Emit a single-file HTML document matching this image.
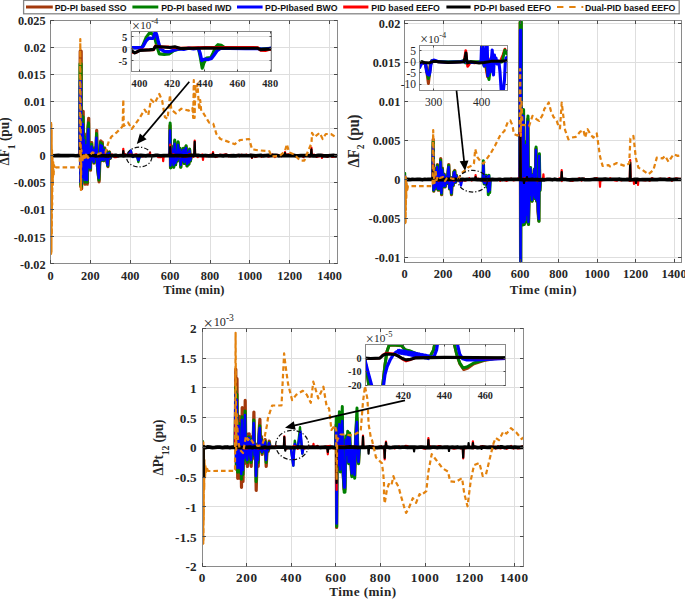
<!DOCTYPE html>
<html><head><meta charset="utf-8"><style>
html,body{margin:0;padding:0;background:#fff;}
body{width:685px;height:599px;overflow:hidden;font-family:"Liberation Sans", sans-serif;}
svg{display:block;}
</style></head><body>
<svg width="685" height="599" viewBox="0 0 685 599">
<rect width="685" height="599" fill="#fff"/>
<defs><clipPath id="c1"><rect x="50.5" y="20.3" width="287.1" height="243.6"/></clipPath><clipPath id="c2"><rect x="404.6" y="20.5" width="276.9" height="241.5"/></clipPath><clipPath id="c3"><rect x="202.3" y="328.3" width="321.1" height="238"/></clipPath><clipPath id="ci1"><rect x="131.5" y="31.7" width="140.2" height="40.1"/></clipPath><clipPath id="ci2"><rect x="419.3" y="45.3" width="87.9" height="45.4"/></clipPath><clipPath id="ci3"><rect x="365.5" y="344.6" width="140.1" height="41"/></clipPath></defs>
<rect x="23.6" y="0.4" width="655.6" height="13.4" fill="#fff" stroke="#858585" stroke-width="1.3"/>
<line x1="26" y1="7" x2="52.8" y2="7" stroke="#A3390C" stroke-width="3"/>
<text x="54.7" y="10.6" font-family='"Liberation Sans", sans-serif' font-size="8.75" font-weight="bold" text-anchor="start" fill="#111">PD-PI based SSO</text>
<line x1="132.4" y1="7" x2="158.3" y2="7" stroke="#008000" stroke-width="3"/>
<text x="161.2" y="10.6" font-family='"Liberation Sans", sans-serif' font-size="8.75" font-weight="bold" text-anchor="start" fill="#111">PD-PI based IWD</text>
<line x1="237" y1="7" x2="262.6" y2="7" stroke="#0000FF" stroke-width="3"/>
<text x="265.1" y="10.6" font-family='"Liberation Sans", sans-serif' font-size="8.75" font-weight="bold" text-anchor="start" fill="#111">PD-PIbased BWO</text>
<line x1="343.2" y1="7" x2="368.4" y2="7" stroke="#FF0000" stroke-width="3"/>
<text x="371.3" y="10.6" font-family='"Liberation Sans", sans-serif' font-size="8.75" font-weight="bold" text-anchor="start" fill="#111">PID based EEFO</text>
<line x1="446.4" y1="7" x2="470.6" y2="7" stroke="#000000" stroke-width="3"/>
<text x="473.8" y="10.6" font-family='"Liberation Sans", sans-serif' font-size="8.75" font-weight="bold" text-anchor="start" fill="#111">PD-PI based EEFO</text>
<line x1="557" y1="7" x2="583.3" y2="7" stroke="#E3820E" stroke-width="2.2" stroke-dasharray="6.4,5.8"/>
<text x="584.9" y="10.6" font-family='"Liberation Sans", sans-serif' font-size="8.75" font-weight="bold" text-anchor="start" fill="#111">Dual-PID based EEFO</text>
<rect x="50.5" y="20.3" width="287.1" height="243.6" fill="#fff"/>
<line x1="90.5" y1="20.3" x2="90.5" y2="263.9" stroke="#dedede" stroke-width="1"/>
<line x1="130.5" y1="20.3" x2="130.5" y2="263.9" stroke="#dedede" stroke-width="1"/>
<line x1="170.5" y1="20.3" x2="170.5" y2="263.9" stroke="#dedede" stroke-width="1"/>
<line x1="210.5" y1="20.3" x2="210.5" y2="263.9" stroke="#dedede" stroke-width="1"/>
<line x1="249.5" y1="20.3" x2="249.5" y2="263.9" stroke="#dedede" stroke-width="1"/>
<line x1="289.5" y1="20.3" x2="289.5" y2="263.9" stroke="#dedede" stroke-width="1"/>
<line x1="329.5" y1="20.3" x2="329.5" y2="263.9" stroke="#dedede" stroke-width="1"/>
<line x1="50.5" y1="47.5" x2="337.6" y2="47.5" stroke="#dedede" stroke-width="1"/>
<line x1="50.5" y1="74.5" x2="337.6" y2="74.5" stroke="#dedede" stroke-width="1"/>
<line x1="50.5" y1="101.5" x2="337.6" y2="101.5" stroke="#dedede" stroke-width="1"/>
<line x1="50.5" y1="128.5" x2="337.6" y2="128.5" stroke="#dedede" stroke-width="1"/>
<line x1="50.5" y1="155.5" x2="337.6" y2="155.5" stroke="#dedede" stroke-width="1"/>
<line x1="50.5" y1="182.5" x2="337.6" y2="182.5" stroke="#dedede" stroke-width="1"/>
<line x1="50.5" y1="209.5" x2="337.6" y2="209.5" stroke="#dedede" stroke-width="1"/>
<line x1="50.5" y1="236.5" x2="337.6" y2="236.5" stroke="#dedede" stroke-width="1"/>
<g clip-path="url(#c1)"><polyline points="50.6,155.6 50.9,140 51.3,205 51.7,155.6" fill="none" stroke="#A3390C" stroke-width="2.2" stroke-linejoin="round" stroke-linecap="butt"/>
<polyline points="50.6,155.6 50.9,136.7 51.3,211.5 51.7,155.6" fill="none" stroke="#008000" stroke-width="2.2" stroke-linejoin="round" stroke-linecap="butt"/>
<polyline points="50.6,155.6 50.9,145 51.3,190 51.7,155.6" fill="none" stroke="#0000FF" stroke-width="2.2" stroke-linejoin="round" stroke-linecap="butt"/>
<polyline points="50.6,155.6 50.9,150 51.3,202.7 51.7,155.6" fill="none" stroke="#FF0000" stroke-width="2" stroke-linejoin="round" stroke-linecap="butt"/>
<polyline points="79.8,155.58 80.2,51.14 80.7,186.48 81.2,51.14 81.6,188.82 82.1,126.74 82.6,181.8 83.2,111.34 83.8,179.46 84.4,133.74 85,184.14 85.6,147.74 86.2,177.12 86.8,140.74 87.4,184.14 88,126.74 88.7,118.34 89.3,168.93 89.9,147.74 90.5,170.1 91.1,147.74 91.8,142.7 92.5,160.74 93.3,147.74 94.1,163.08 94.9,147.74 95.7,158.4 96.7,130.38 97.5,166.59 98.3,174.78 99.1,181.8 99.9,160.74 100.7,140.74 101.5,160.74 102.3,142.14 103.1,158.4 103.9,160.74 104.7,147.74 105.5,158.4 106.3,150.54 107.1,161.91 107.9,166.59 108.7,154.74 109.5,151.94 110.3,158.4 111.1,155.58" fill="none" stroke="#A3390C" stroke-width="3.2" stroke-linejoin="round" stroke-linecap="butt"/>
<polyline points="169.5,155.59 170,125.47 170.5,167.47 171.2,146.47 172,163.27 172.8,148.87 173.6,166.87 174.6,141.19 175.5,164.47 176.3,151.27 177.2,160.87 178,142.87 179,158.47 180,148.87 180.7,166.87 181.6,151.27 182.5,160.87 183.3,148.87 184.2,163.27 185,151.27 186,146.47 187,165.67 188,152.47 188.8,163.87 189.5,149.59 190.3,160.87 191.2,155.59" fill="none" stroke="#A3390C" stroke-width="3.2" stroke-linejoin="round" stroke-linecap="butt"/>
<polyline points="79.65,155.59 80.05,63.83 80.55,184.37 81.05,63.83 81.45,186.55 81.95,130.25 82.45,180.01 83.05,116.72 83.65,177.83 84.25,136.4 84.85,182.19 85.45,148.7 86.05,175.65 86.65,142.55 87.25,182.19 87.85,130.25 88.55,122.87 89.15,168.02 89.75,148.7 90.35,169.11 90.95,148.7 91.65,144.27 92.35,160.39 93.15,148.7 93.95,162.57 94.75,148.7 95.55,158.21 96.55,133.45 97.35,165.84 98.15,173.47 98.95,180.01 99.75,160.39 100.55,142.55 101.35,160.39 102.15,143.78 102.95,158.21 103.75,160.39 104.55,148.7 105.35,158.21 106.15,151.16 106.95,161.48 107.75,165.84 108.55,154.85 109.35,152.39 110.15,158.21 110.95,155.59" fill="none" stroke="#008000" stroke-width="3.0" stroke-linejoin="round" stroke-linecap="butt"/>
<polyline points="169.65,155.58 170.15,122.95 170.65,167.96 171.35,145.7 172.15,163.59 172.95,148.31 173.75,167.34 174.75,139.98 175.65,164.84 176.45,150.91 177.35,161.09 178.15,141.81 179.15,158.59 180.15,148.31 180.85,167.34 181.75,150.91 182.65,161.09 183.45,148.31 184.35,163.59 185.15,150.91 186.15,145.7 187.15,166.09 188.15,152.2 188.95,164.21 189.65,149.08 190.45,161.09 191.35,155.58" fill="none" stroke="#008000" stroke-width="3.0" stroke-linejoin="round" stroke-linecap="butt"/>
<polyline points="79.5,155.6 79.9,81 80.4,182 80.9,81 81.3,184 81.8,135 82.3,178 82.9,124 83.5,176 84.1,140 84.7,180 85.3,150 85.9,174 86.5,145 87.1,180 87.7,135 88.4,129 89,167 89.6,150 90.2,168 90.8,150 91.5,146.4 92.2,160 93,150 93.8,162 94.6,150 95.4,158 96.4,137.6 97.2,165 98,172 98.8,178 99.6,160 100.4,145 101.2,160 102,146 102.8,158 103.6,160 104.4,150 105.2,158 106,152 106.8,161 107.6,165 108.4,155 109.2,153 110,158 110.8,155.6" fill="none" stroke="#0000FF" stroke-width="2.4" stroke-linejoin="round" stroke-linecap="butt"/>
<polyline points="169.5,155.6 170,130.5 170.5,165.5 171.2,148 172,162 172.8,150 173.6,165 174.6,143.6 175.5,163 176.3,152 177.2,160 178,145 179,158 180,150 180.7,165 181.6,152 182.5,160 183.3,150 184.2,162 185,152 186,148 187,164 188,153 188.8,162.5 189.5,150.6 190.3,160 191.2,155.6" fill="none" stroke="#0000FF" stroke-width="2.4" stroke-linejoin="round" stroke-linecap="butt"/>
<polyline points="128.5,155.6 129.5,152 130.8,150.6 132,156 133,157 135,155 137.2,157 138.4,162 139.6,157 142,155.6" fill="none" stroke="#008000" stroke-width="2.4" stroke-linejoin="round" stroke-linecap="butt"/>
<polyline points="128.5,155.6 129.5,152 130.8,150.6 132,156 133,157 135,155 137.2,157 138.4,160 139.6,157 142,155.6" fill="none" stroke="#0000FF" stroke-width="2.4" stroke-linejoin="round" stroke-linecap="butt"/>
<polyline points="79,155.49 81.2,155.85 83.4,157.09 85.6,155.53 87.8,155.68 90,155.95 92.2,154.58 94.4,155.69 96.6,156.09 98.8,156.65 101,154.27 103.2,154.98 105.4,154.26 107.6,156.7 109.8,156.31 112,154.09 114.2,157.29 116.4,157.23 118.6,156.17 120.8,156.04 123,154.49 125.2,154 127.4,155.75 129.6,154.15 131.8,154.6 134,154.77 136.2,154.05 138.4,155.53 140.6,155.45 142.8,156.81 145,155.72 147.2,156.13 149.4,155.65 151.6,156.2 153.8,155.5 156,154.9 158.2,157.34 160.4,157.34 162.6,156.81 164.8,156.36 167,155.02 169.2,154.73 171.4,154.93 173.6,154.19 175.8,156.56 178,155.31 180.2,156.83 182.4,155.26 184.6,157.21 186.8,156.83 189,153.95 191.2,154.66 193.4,157.04 195.6,155.55 197.8,157.28 200,155.3 202.2,154.2 204.4,156.09 206.6,156.6 208.8,154.87 211,154.25 213.2,155.08 215.4,157.23 217.6,156.53 219.8,154.35 222,154.79 224.2,154.29 226.4,154.15 228.6,156.66 230.8,154.55 233,155.85 235.2,155.47 237.4,154.6 239.6,156.44 241.8,154.4 244,156.14 246.2,154.35 248.4,155.38 250.6,154.67 252.8,154.87 255,157.25 257.2,156.68 259.4,154.98 261.6,156.96 263.8,154.67 266,155.29 268.2,156.85 270.4,156.13 272.6,154.29 274.8,157.31 277,154.68 279.2,154.83 281.4,156.58 283.6,155.07 285.8,154.96 288,154.2 290.2,154.26 292.4,155.93 294.6,154.78 296.8,155.99 299,155.21 301.2,155.49 303.4,157.21 305.6,155.59 307.8,155.9 310,156.9 312.2,154.57 314.4,154.47 316.6,157.04 318.8,156.73 321,154.8 323.2,154.6 325.4,156.46 327.6,157.15 329.8,154.62 332,157.18 334.2,156.95 336.4,156 337.6,155.65" fill="none" stroke="#FF0000" stroke-width="1.8" stroke-linejoin="round" stroke-linecap="butt"/>
<polyline points="79.85,155.65 80.3,143 80.75,155.65" fill="none" stroke="#FF0000" stroke-width="2.2" stroke-linejoin="round" stroke-linecap="butt" stroke-linejoin="miter"/>
<polyline points="122.85,155.65 123.3,148.9 123.75,155.65" fill="none" stroke="#FF0000" stroke-width="2.2" stroke-linejoin="round" stroke-linecap="butt" stroke-linejoin="miter"/>
<polyline points="149.55,155.65 150,152.5 150.45,155.65" fill="none" stroke="#FF0000" stroke-width="2.2" stroke-linejoin="round" stroke-linecap="butt" stroke-linejoin="miter"/>
<polyline points="162.75,155.65 163.2,161.2 163.65,155.65" fill="none" stroke="#FF0000" stroke-width="2.2" stroke-linejoin="round" stroke-linecap="butt" stroke-linejoin="miter"/>
<polyline points="169.75,155.65 170.2,144.5 170.65,155.65" fill="none" stroke="#FF0000" stroke-width="2.2" stroke-linejoin="round" stroke-linecap="butt" stroke-linejoin="miter"/>
<polyline points="194.25,155.65 194.7,140.5 195.15,155.65" fill="none" stroke="#FF0000" stroke-width="2.2" stroke-linejoin="round" stroke-linecap="butt" stroke-linejoin="miter"/>
<polyline points="202.55,155.65 203,160 203.45,155.65" fill="none" stroke="#FF0000" stroke-width="2.2" stroke-linejoin="round" stroke-linecap="butt" stroke-linejoin="miter"/>
<polyline points="212.55,155.65 213,152 213.45,155.65" fill="none" stroke="#FF0000" stroke-width="2.2" stroke-linejoin="round" stroke-linecap="butt" stroke-linejoin="miter"/>
<polyline points="251.55,155.65 252,158 252.45,155.65" fill="none" stroke="#FF0000" stroke-width="2.2" stroke-linejoin="round" stroke-linecap="butt" stroke-linejoin="miter"/>
<polyline points="284.55,155.65 285,152 285.45,155.65" fill="none" stroke="#FF0000" stroke-width="2.2" stroke-linejoin="round" stroke-linecap="butt" stroke-linejoin="miter"/>
<polyline points="310.95,155.65 311.4,147.5 311.85,155.65" fill="none" stroke="#FF0000" stroke-width="2.2" stroke-linejoin="round" stroke-linecap="butt" stroke-linejoin="miter"/>
<polyline points="321.55,155.65 322,158 322.45,155.65" fill="none" stroke="#FF0000" stroke-width="2.2" stroke-linejoin="round" stroke-linecap="butt" stroke-linejoin="miter"/>
<polyline points="50.8,155.46 53.3,155.75 55.8,155.55 58.3,155.47 60.8,155.64 63.3,155.65 65.8,155.64 68.3,155.62 70.8,155.51 73.3,155.5 75.8,155.77 78.3,155.54 80.8,155.75 83.3,155.82 85.8,155.87 88.3,155.92 90.8,155.49 93.3,155.49 95.8,155.79 98.3,155.7 100.8,155.47 103.3,155.76 105.8,155.87 108.3,155.85 110.8,155.48 113.3,155.53 115.8,155.35 118.3,155.94 120.8,155.48 123.3,155.79 125.8,155.67 128.3,155.71 130.8,155.67 133.3,155.85 135.8,155.71 138.3,155.53 140.8,155.42 143.3,155.64 145.8,155.9 148.3,155.44 150.8,155.76 153.3,155.73 155.8,155.45 158.3,155.47 160.8,155.76 163.3,155.61 165.8,155.59 168.3,155.64 170.8,155.41 173.3,155.77 175.8,155.7 178.3,155.67 180.8,155.55 183.3,155.84 185.8,155.84 188.3,155.68 190.8,155.4 193.3,155.44 195.8,155.44 198.3,155.4 200.8,155.74 203.3,155.68 205.8,155.47 208.3,155.9 210.8,155.73 213.3,155.83 215.8,155.84 218.3,155.76 220.8,155.67 223.3,155.94 225.8,155.43 228.3,155.76 230.8,155.88 233.3,155.64 235.8,155.84 238.3,155.46 240.8,155.6 243.3,155.51 245.8,155.59 248.3,155.77 250.8,155.44 253.3,155.55 255.8,155.86 258.3,155.53 260.8,155.43 263.3,155.95 265.8,155.67 268.3,155.36 270.8,155.69 273.3,155.44 275.8,155.45 278.3,155.79 280.8,155.74 283.3,155.61 285.8,155.66 288.3,155.69 290.8,155.63 293.3,155.41 295.8,155.81 298.3,155.81 300.8,155.6 303.3,155.59 305.8,155.72 308.3,155.63 310.8,155.6 313.3,155.88 315.8,155.89 318.3,155.44 320.8,155.45 323.3,155.82 325.8,155.92 328.3,155.79 330.8,155.53 333.3,155.39 335.8,155.85 337.6,155.65" fill="none" stroke="#000000" stroke-width="3.7" stroke-linejoin="round" stroke-linecap="butt"/>
<polyline points="79.85,155.65 80.3,145 80.75,155.65" fill="none" stroke="#000000" stroke-width="2.2" stroke-linejoin="round" stroke-linecap="butt" stroke-linejoin="miter"/>
<polyline points="122.85,155.65 123.3,151 123.75,155.65" fill="none" stroke="#000000" stroke-width="2.2" stroke-linejoin="round" stroke-linecap="butt" stroke-linejoin="miter"/>
<polyline points="169.75,155.65 170.2,147 170.65,155.65" fill="none" stroke="#000000" stroke-width="2.2" stroke-linejoin="round" stroke-linecap="butt" stroke-linejoin="miter"/>
<polyline points="194.25,155.65 194.7,141.9 195.15,155.65" fill="none" stroke="#000000" stroke-width="2.2" stroke-linejoin="round" stroke-linecap="butt" stroke-linejoin="miter"/>
<polyline points="212.55,155.65 213,153.5 213.45,155.65" fill="none" stroke="#000000" stroke-width="2.2" stroke-linejoin="round" stroke-linecap="butt" stroke-linejoin="miter"/>
<polyline points="251.55,155.65 252,157.5 252.45,155.65" fill="none" stroke="#000000" stroke-width="2.2" stroke-linejoin="round" stroke-linecap="butt" stroke-linejoin="miter"/>
<polyline points="284.55,155.65 285,153 285.45,155.65" fill="none" stroke="#000000" stroke-width="2.2" stroke-linejoin="round" stroke-linecap="butt" stroke-linejoin="miter"/>
<polyline points="310.95,155.65 311.4,149.3 311.85,155.65" fill="none" stroke="#000000" stroke-width="2.2" stroke-linejoin="round" stroke-linecap="butt" stroke-linejoin="miter"/>
<polyline points="50.6,150 50.8,122 51,254 51.2,124 51.4,252 51.6,130 51.8,235 52,150 52.2,205 52.5,158 52.8,185 53.2,162 53.6,176 54,165 55,169 56,167.4 79.8,167.4 80.3,39 80.9,190 81.4,150 82.2,162 83.5,154 85,160 86.5,153 88,158 90,155 92.3,152.4 97.5,154.1 101,153 105.4,152.4 108.9,141 111.5,136.6 116.8,132.3 121.2,127.9 122.6,126.2 123.3,99.5 123.8,126 128.1,122.5 131.8,128.9 139.1,118.8 144.6,109.6 148.3,115.1 151,99.5 154.7,103.2 159.3,94 162.1,100.4 164.9,117 167.6,118.8 170,95 171.3,109.6 175.9,113.3 181.4,108.7 188.8,110.6 192.4,107.8 193.2,117.9 193.8,80.2 194.6,118 195.4,86 196.5,92 197.5,83.9 198.3,97 199.2,110 200.2,100 201.2,111 203,112.5 209.2,122.7 213.3,123.7 216.4,134 220.4,139 226.6,141.1 234.8,144.2 239.9,140.1 249.1,139 252.1,149.3 258.3,150.3 269.5,151.3 271.6,156.5 279.8,155.8 284.9,151.3 286.9,144.2 289,152.4 294.1,154.4 300.2,160.6 304.3,160.6 308.4,150.3 311.5,143.2 312,132.9 314.5,137 319.6,132.9 322.7,139 325.8,134 330.9,134 336,137.4 338,137" fill="none" stroke="#E3820E" stroke-width="2.2" stroke-linejoin="round" stroke-linecap="butt" stroke-dasharray="4.6,3"/>
<polyline points="50.9,122 50.9,254" fill="none" stroke="#E3820E" stroke-width="2.4" stroke-linejoin="round" stroke-linecap="butt"/></g>
<rect x="50.5" y="20.5" width="287" height="243" fill="none" stroke="#8a8a8a" stroke-width="1.0"/>
<path d="M50.5,263.5v-3.5M50.5,20.5v3.5M90.5,263.5v-3.5M90.5,20.5v3.5M130.5,263.5v-3.5M130.5,20.5v3.5M170.5,263.5v-3.5M170.5,20.5v3.5M210.5,263.5v-3.5M210.5,20.5v3.5M249.5,263.5v-3.5M249.5,20.5v3.5M289.5,263.5v-3.5M289.5,20.5v3.5M329.5,263.5v-3.5M329.5,20.5v3.5M50.5,20.5h3.5M337.5,20.5h-3.5M50.5,47.5h3.5M337.5,47.5h-3.5M50.5,74.5h3.5M337.5,74.5h-3.5M50.5,101.5h3.5M337.5,101.5h-3.5M50.5,128.5h3.5M337.5,128.5h-3.5M50.5,155.5h3.5M337.5,155.5h-3.5M50.5,182.5h3.5M337.5,182.5h-3.5M50.5,209.5h3.5M337.5,209.5h-3.5M50.5,236.5h3.5M337.5,236.5h-3.5M50.5,263.5h3.5M337.5,263.5h-3.5" stroke="#4a4a4a" stroke-width="1.0" fill="none"/>
<text x="45.6" y="25" font-family='"Liberation Serif", serif' font-size="12.3" font-weight="bold" text-anchor="end" fill="#262626">0.025</text>
<text x="45.6" y="52.07" font-family='"Liberation Serif", serif' font-size="12.3" font-weight="bold" text-anchor="end" fill="#262626">0.02</text>
<text x="45.6" y="79.14" font-family='"Liberation Serif", serif' font-size="12.3" font-weight="bold" text-anchor="end" fill="#262626">0.015</text>
<text x="45.6" y="106.21" font-family='"Liberation Serif", serif' font-size="12.3" font-weight="bold" text-anchor="end" fill="#262626">0.01</text>
<text x="45.6" y="133.28" font-family='"Liberation Serif", serif' font-size="12.3" font-weight="bold" text-anchor="end" fill="#262626">0.005</text>
<text x="45.6" y="160.35" font-family='"Liberation Serif", serif' font-size="12.3" font-weight="bold" text-anchor="end" fill="#262626">0</text>
<text x="45.6" y="187.42" font-family='"Liberation Serif", serif' font-size="12.3" font-weight="bold" text-anchor="end" fill="#262626">-0.005</text>
<text x="45.6" y="214.49" font-family='"Liberation Serif", serif' font-size="12.3" font-weight="bold" text-anchor="end" fill="#262626">-0.01</text>
<text x="45.6" y="241.56" font-family='"Liberation Serif", serif' font-size="12.3" font-weight="bold" text-anchor="end" fill="#262626">-0.015</text>
<text x="45.6" y="268.63" font-family='"Liberation Serif", serif' font-size="12.3" font-weight="bold" text-anchor="end" fill="#262626">-0.02</text>
<text x="50.5" y="280.1" font-family='"Liberation Serif", serif' font-size="12.3" font-weight="bold" text-anchor="middle" fill="#262626" letter-spacing="0.05">0</text>
<text x="90.38" y="280.1" font-family='"Liberation Serif", serif' font-size="12.3" font-weight="bold" text-anchor="middle" fill="#262626" letter-spacing="0.05">200</text>
<text x="130.25" y="280.1" font-family='"Liberation Serif", serif' font-size="12.3" font-weight="bold" text-anchor="middle" fill="#262626" letter-spacing="0.05">400</text>
<text x="170.13" y="280.1" font-family='"Liberation Serif", serif' font-size="12.3" font-weight="bold" text-anchor="middle" fill="#262626" letter-spacing="0.05">600</text>
<text x="210" y="280.1" font-family='"Liberation Serif", serif' font-size="12.3" font-weight="bold" text-anchor="middle" fill="#262626" letter-spacing="0.05">800</text>
<text x="249.88" y="280.1" font-family='"Liberation Serif", serif' font-size="12.3" font-weight="bold" text-anchor="middle" fill="#262626" letter-spacing="0.05">1000</text>
<text x="289.76" y="280.1" font-family='"Liberation Serif", serif' font-size="12.3" font-weight="bold" text-anchor="middle" fill="#262626" letter-spacing="0.05">1200</text>
<text x="329.63" y="280.1" font-family='"Liberation Serif", serif' font-size="12.3" font-weight="bold" text-anchor="middle" fill="#262626" letter-spacing="0.05">1400</text>
<text x="194" y="294.4" font-family='"Liberation Serif", serif' font-size="12.5" font-weight="bold" text-anchor="middle" fill="#262626" letter-spacing="0.15">Time (min)</text>
<text transform="translate(9.4,141.5) scale(1.1,1) rotate(-90)" font-family='"Liberation Serif", serif' font-size="13.3" font-weight="bold" text-anchor="middle" fill="#262626" letter-spacing="0">&#916;F<tspan font-size="9.5" dy="4.8">1</tspan><tspan dy="-4.8"> (pu)</tspan></text>
<rect x="131.5" y="31.7" width="140.2" height="40.1" fill="#fff"/>
<line x1="139.5" y1="31.7" x2="139.5" y2="71.8" stroke="#dedede" stroke-width="1"/>
<line x1="172.5" y1="31.7" x2="172.5" y2="71.8" stroke="#dedede" stroke-width="1"/>
<line x1="204.5" y1="31.7" x2="204.5" y2="71.8" stroke="#dedede" stroke-width="1"/>
<line x1="237.5" y1="31.7" x2="237.5" y2="71.8" stroke="#dedede" stroke-width="1"/>
<line x1="270.5" y1="31.7" x2="270.5" y2="71.8" stroke="#dedede" stroke-width="1"/>
<line x1="131.5" y1="36.5" x2="271.7" y2="36.5" stroke="#dedede" stroke-width="1"/>
<line x1="131.5" y1="48.5" x2="271.7" y2="48.5" stroke="#dedede" stroke-width="1"/>
<line x1="131.5" y1="60.5" x2="271.7" y2="60.5" stroke="#dedede" stroke-width="1"/>
<g clip-path="url(#ci1)"><polyline points="131.5,47.73 141.29,47.73 142.93,45.37 146.19,37.34 149.13,33.33 151.58,33.33 153.7,35.22 154.84,38.05 156.8,45.84 159.25,53.86 164.15,54.34 169.05,53.86 173.94,50.56 180.47,48.67 188.64,48.2 198.43,48.2 200.39,57.64 202.19,68.26 204.15,62.36 206.59,58.11 210.68,57.64 213.12,52.92 215.57,47.02 218.02,44.66 221.29,45.37 224.55,47.49 237.61,48.2 257.2,48.2 262.1,48.91 271.89,48.2" fill="none" stroke="#008000" stroke-width="3.1" stroke-linejoin="round" stroke-linecap="butt"/>
<polyline points="131.5,47.73 141.78,47.73 143.42,45.84 145.87,41.12 148.8,38.05 151.09,38.29 153.21,38.29 155.33,31.44 156.8,35.22 158.44,42.3 160.56,49.14 164.15,51.27 169.05,51.74 173.94,50.09 178.84,48.91 183.74,49.38 188.64,48.2 193.53,48.91 198.43,48.2 200.06,52.92 201.7,60.47 204.96,59.06 208.23,59.53 211.49,58.35 213.94,55.28 217.21,50.56 220.47,48.44 229.45,48.44 245.78,48.67 257.2,48.67 262.1,49.14 267,48.91 271.89,48.2" fill="none" stroke="#0000FF" stroke-width="3.3" stroke-linejoin="round" stroke-linecap="butt"/>
<polyline points="131.5,52.45 136.4,52.45 139.66,50.09 147.82,49.85 153.54,49.85 155.33,45.84 159.25,46.78 169.05,47.02 180.47,48.2 204.96,47.49 253.94,47.49 258.02,47.73 260.47,50.32 265.37,50.56 268.63,49.62 271.89,49.38" fill="none" stroke="#FF0000" stroke-width="2.8" stroke-linejoin="round" stroke-linecap="butt"/>
<polyline points="131.5,50.56 134.76,52.92 139.66,50.56 149.46,49.85 153.54,49.38 155.33,46.55 160.07,46.78 169.86,47.49 174.76,46.78 180.47,48.44 196.8,48.2 204.96,47.96 237.61,48.2 257.2,48.2 260.47,49.62 271.89,48.91" fill="none" stroke="#000000" stroke-width="3.1" stroke-linejoin="round" stroke-linecap="butt"/></g>
<rect x="131.5" y="31.5" width="140" height="40" fill="none" stroke="#8a8a8a" stroke-width="1.0"/>
<path d="M139.5,71.5v-2M139.5,31.5v2M172.5,71.5v-2M172.5,31.5v2M204.5,71.5v-2M204.5,31.5v2M237.5,71.5v-2M237.5,31.5v2M270.5,71.5v-2M270.5,31.5v2M131.5,36.5h2M271.5,36.5h-2M131.5,48.5h2M271.5,48.5h-2M131.5,60.5h2M271.5,60.5h-2" stroke="#4a4a4a" stroke-width="1.0" fill="none"/>
<text x="127.4" y="41" font-family='"Liberation Serif", serif' font-size="10.6" font-weight="bold" text-anchor="end" fill="#262626">5</text>
<text x="127.4" y="52.8" font-family='"Liberation Serif", serif' font-size="10.6" font-weight="bold" text-anchor="end" fill="#262626">0</text>
<text x="127.4" y="64.6" font-family='"Liberation Serif", serif' font-size="10.6" font-weight="bold" text-anchor="end" fill="#262626">-5</text>
<text x="139.66" y="86.7" font-family='"Liberation Serif", serif' font-size="10.4" font-weight="bold" text-anchor="middle" fill="#262626" letter-spacing="0.2">400</text>
<text x="172.31" y="86.7" font-family='"Liberation Serif", serif' font-size="10.4" font-weight="bold" text-anchor="middle" fill="#262626" letter-spacing="0.2">420</text>
<text x="204.96" y="86.7" font-family='"Liberation Serif", serif' font-size="10.4" font-weight="bold" text-anchor="middle" fill="#262626" letter-spacing="0.2">440</text>
<text x="237.61" y="86.7" font-family='"Liberation Serif", serif' font-size="10.4" font-weight="bold" text-anchor="middle" fill="#262626" letter-spacing="0.2">460</text>
<text x="270.26" y="86.7" font-family='"Liberation Serif", serif' font-size="10.4" font-weight="bold" text-anchor="middle" fill="#262626" letter-spacing="0.2">480</text>
<text x="132" y="31" font-family='"Liberation Serif", serif' font-size="14" fill="#262626">&#215;</text><text x="140.2" y="29.4" font-family='"Liberation Serif", serif' font-size="11" fill="#262626">10<tspan font-size="8.5" dy="-5.2">-4</tspan></text>
<rect x="404.6" y="20.5" width="276.9" height="241.5" fill="#fff"/>
<line x1="443.5" y1="20.5" x2="443.5" y2="262" stroke="#dedede" stroke-width="1"/>
<line x1="481.5" y1="20.5" x2="481.5" y2="262" stroke="#dedede" stroke-width="1"/>
<line x1="520.5" y1="20.5" x2="520.5" y2="262" stroke="#dedede" stroke-width="1"/>
<line x1="558.5" y1="20.5" x2="558.5" y2="262" stroke="#dedede" stroke-width="1"/>
<line x1="597.5" y1="20.5" x2="597.5" y2="262" stroke="#dedede" stroke-width="1"/>
<line x1="635.5" y1="20.5" x2="635.5" y2="262" stroke="#dedede" stroke-width="1"/>
<line x1="674.5" y1="20.5" x2="674.5" y2="262" stroke="#dedede" stroke-width="1"/>
<line x1="404.6" y1="23.5" x2="681.5" y2="23.5" stroke="#dedede" stroke-width="1"/>
<line x1="404.6" y1="62.5" x2="681.5" y2="62.5" stroke="#dedede" stroke-width="1"/>
<line x1="404.6" y1="101.5" x2="681.5" y2="101.5" stroke="#dedede" stroke-width="1"/>
<line x1="404.6" y1="140.5" x2="681.5" y2="140.5" stroke="#dedede" stroke-width="1"/>
<line x1="404.6" y1="179.5" x2="681.5" y2="179.5" stroke="#dedede" stroke-width="1"/>
<line x1="404.6" y1="218.5" x2="681.5" y2="218.5" stroke="#dedede" stroke-width="1"/>
<line x1="404.6" y1="257.5" x2="681.5" y2="257.5" stroke="#dedede" stroke-width="1"/>
<g clip-path="url(#c2)"><polyline points="404.8,179.5 405.1,173.1 405.5,198 405.9,179.5" fill="none" stroke="#008000" stroke-width="2.2" stroke-linejoin="round" stroke-linecap="butt"/>
<polyline points="404.8,179.5 405.1,176 405.5,192 405.9,179.5" fill="none" stroke="#0000FF" stroke-width="2.2" stroke-linejoin="round" stroke-linecap="butt"/>
<polyline points="432.7,179.5 433.2,139.3 433.8,191.26 434.5,168.1 435.2,189.02 436,170.5 436.7,186.78 437.4,164.5 438.2,190.14 439,170.5 439.8,190.14 440.7,158.5 441.6,194.62 442.4,168.1 443.2,186.78 444.2,174.1 445.2,186.78 446.2,176.5 447.2,183.42 448.2,170.5 448.8,164.5 449.6,189.02 450.5,177.7 451.5,194.62 452.4,177.7 453.2,185.66 454,171.7 454.8,170.5 455.6,182.3 456.4,175.3 457.2,179.5" fill="none" stroke="#A3390C" stroke-width="3.2" stroke-linejoin="round" stroke-linecap="butt"/>
<polyline points="519.6,179.5 520.1,22.53 520.6,269.27 521.1,22.53 521.5,201.03 522.2,169.53 522.8,224.55 523.4,112.72 524.1,224.12 524.7,148.53 525.3,222.03 526,143.28 526.7,216.78 527.3,127.53 527.8,118.81 528.4,224.12 529.2,186.32 529.8,195.78 530.4,167.95 531.2,190.53 532,201.03 532.8,174.78 533.5,195.78 534.3,169.53 535,198.5 535.9,148.53 536.6,201.03 537.3,185.28 538,211.53 538.8,220.97 539.2,154.82 539.8,190.53 540.4,179.5" fill="none" stroke="#A3390C" stroke-width="3.2" stroke-linejoin="round" stroke-linecap="butt"/>
<polyline points="432.6,179.5 433.1,141.98 433.7,190.74 434.4,168.86 435.1,188.59 435.9,171.1 436.6,186.46 437.3,165.5 438.1,189.66 438.9,171.1 439.7,189.66 440.6,159.9 441.5,193.94 442.3,168.86 443.1,186.46 444.1,174.46 445.1,186.46 446.1,176.7 447.1,183.25 448.1,171.1 448.7,165.5 449.5,188.59 450.4,177.82 451.4,193.94 452.3,177.82 453.1,185.38 453.9,172.22 454.7,171.1 455.5,182.18 456.3,175.58 457.1,179.5" fill="none" stroke="#008000" stroke-width="3.0" stroke-linejoin="round" stroke-linecap="butt"/>
<polyline points="482,179.5 482.7,180.96 483.4,160.87 484.1,183.91 484.8,175.62 485.5,183.99 486.2,175.29 486.9,187.12 487.6,176.5 488.3,194.72 489,175.13 489.7,192.71 490.4,178.56" fill="none" stroke="#008000" stroke-width="3.0" stroke-linejoin="round" stroke-linecap="butt"/>
<polyline points="519.8,179.5 520.3,15.05 520.8,270.13 521.3,15.05 521.7,201.23 522.4,169.05 523,224.97 523.6,109.54 524.3,224.55 524.9,147.05 525.5,222.43 526.2,141.55 526.9,217.13 527.5,125.05 528,115.92 528.6,224.55 529.4,186.39 530,195.93 530.6,167.4 531.4,190.63 532.2,201.23 533,174.55 533.7,195.93 534.5,169.05 535.2,198.69 536.1,147.05 536.8,201.23 537.5,185.33 538.2,211.83 539,221.37 539.4,153.65 540,190.63 540.6,179.5" fill="none" stroke="#008000" stroke-width="3.0" stroke-linejoin="round" stroke-linecap="butt"/>
<polyline points="432.5,179.5 433,146 433.6,190 434.3,170 435,188 435.8,172 436.5,186 437.2,167 438,189 438.8,172 439.6,189 440.5,162 441.4,193 442.2,170 443,186 444,175 445,186 446,177 447,183 448,172 448.6,167 449.4,188 450.3,178 451.3,193 452.2,178 453,185 453.8,173 454.6,172 455.4,182 456.2,176 457,179.5" fill="none" stroke="#0000FF" stroke-width="2.4" stroke-linejoin="round" stroke-linecap="butt"/>
<polyline points="482,179.5 482.7,180.67 483.4,164.6 484.1,183.03 484.8,176.4 485.5,183.09 486.2,176.13 486.9,185.6 487.6,177.1 488.3,191.68 489,176 489.7,190.07 490.4,178.75" fill="none" stroke="#0000FF" stroke-width="2.4" stroke-linejoin="round" stroke-linecap="butt"/>
<polyline points="519.6,179.5 520.1,30 520.6,265 521.1,30 521.5,200 522.2,170 522.8,222.4 523.4,115.9 524.1,222 524.7,150 525.3,220 526,145 526.7,215 527.3,130 527.8,121.7 528.4,222 529.2,186 529.8,195 530.4,168.5 531.2,190 532,200 532.8,175 533.5,195 534.3,170 535,197.6 535.9,150 536.6,200 537.3,185 538,210 538.8,219 539.2,156 539.8,190 540.4,179.5" fill="none" stroke="#0000FF" stroke-width="2.4" stroke-linejoin="round" stroke-linecap="butt"/>
<polyline points="459,179.5 460,181 461,185.6 462,181 463,179.5" fill="none" stroke="#0000FF" stroke-width="2.2" stroke-linejoin="round" stroke-linecap="butt"/>
<polyline points="432,181.06 434.2,178.28 436.4,177.88 438.6,181.2 440.8,178.43 443,178.21 445.2,180.01 447.4,178.98 449.6,180.82 451.8,178.59 454,181.06 456.2,178.89 458.4,179.84 460.6,180.97 462.8,180.13 465,180.94 467.2,180.21 469.4,177.96 471.6,180.8 473.8,179.8 476,178.86 478.2,178.45 480.4,180.69 482.6,179.78 484.8,180.99 487,180.43 489.2,181.07 491.4,179.73 493.6,180.17 495.8,179.88 498,178.68 500.2,181.05 502.4,178.86 504.6,180.46 506.8,181.05 509,180.01 511.2,178.28 513.4,180.61 515.6,180.07 517.8,178.43 520,177.97 522.2,179.61 524.4,177.91 526.6,180.95 528.8,179.52 531,179.56 533.2,179.19 535.4,180.05 537.6,180.92 539.8,178.84 542,179.07 544.2,179.78 546.4,178.81 548.6,179.83 550.8,179.65 553,179.27 555.2,180.09 557.4,179.6 559.6,178.1 561.8,181.19 564,179.01 566.2,179.27 568.4,179.17 570.6,180.96 572.8,181.04 575,179.54 577.2,179.16 579.4,178.13 581.6,180.84 583.8,178.38 586,179.66 588.2,178.99 590.4,178.92 592.6,179.01 594.8,178.45 597,177.93 599.2,179.62 601.4,180.51 603.6,180 605.8,178.49 608,180.16 610.2,177.98 612.4,179.2 614.6,180.62 616.8,180.93 619,179.37 621.2,180.68 623.4,179.5 625.6,179.58 627.8,179.79 630,181.17 632.2,180.33 634.4,179.41 636.6,180.27 638.8,179.99 641,179 643.2,180.47 645.4,180.59 647.6,179.87 649.8,181.01 652,177.86 654.2,179.5 656.4,179.96 658.6,178.96 660.8,178.38 663,180.15 665.2,179.28 667.4,178.71 669.6,177.94 671.8,181.09 674,179 676.2,178.2 678.4,178.54 680.6,178.67 681.5,179.5" fill="none" stroke="#FF0000" stroke-width="1.8" stroke-linejoin="round" stroke-linecap="butt"/>
<polyline points="432.75,179.5 433.2,165 433.65,179.5" fill="none" stroke="#FF0000" stroke-width="2.2" stroke-linejoin="round" stroke-linecap="butt" stroke-linejoin="miter"/>
<polyline points="475.15,179.5 475.6,175 476.05,179.5" fill="none" stroke="#FF0000" stroke-width="2.2" stroke-linejoin="round" stroke-linecap="butt" stroke-linejoin="miter"/>
<polyline points="519.85,179.5 520.3,128 520.75,179.5" fill="none" stroke="#FF0000" stroke-width="2.2" stroke-linejoin="round" stroke-linecap="butt" stroke-linejoin="miter"/>
<polyline points="542.95,179.5 543.4,174.3 543.85,179.5" fill="none" stroke="#FF0000" stroke-width="2.2" stroke-linejoin="round" stroke-linecap="butt" stroke-linejoin="miter"/>
<polyline points="561.25,179.5 561.7,170.2 562.15,179.5" fill="none" stroke="#FF0000" stroke-width="2.2" stroke-linejoin="round" stroke-linecap="butt" stroke-linejoin="miter"/>
<polyline points="599.55,179.5 600,186.8 600.45,179.5" fill="none" stroke="#FF0000" stroke-width="2.2" stroke-linejoin="round" stroke-linecap="butt" stroke-linejoin="miter"/>
<polyline points="629.75,179.5 630.2,160 630.65,179.5" fill="none" stroke="#FF0000" stroke-width="2.2" stroke-linejoin="round" stroke-linecap="butt" stroke-linejoin="miter"/>
<polyline points="633.55,179.5 634,184 634.45,179.5" fill="none" stroke="#FF0000" stroke-width="2.2" stroke-linejoin="round" stroke-linecap="butt" stroke-linejoin="miter"/>
<polyline points="637.55,179.5 638,185 638.45,179.5" fill="none" stroke="#FF0000" stroke-width="2.2" stroke-linejoin="round" stroke-linecap="butt" stroke-linejoin="miter"/>
<polyline points="404.8,179.53 407.3,179.41 409.8,179.71 412.3,179.37 414.8,179.51 417.3,179.41 419.8,179.45 422.3,179.78 424.8,179.26 427.3,179.47 429.8,179.33 432.3,179.41 434.8,179.8 437.3,179.4 439.8,179.56 442.3,179.45 444.8,179.64 447.3,179.47 449.8,179.3 452.3,179.46 454.8,179.44 457.3,179.68 459.8,179.54 462.3,179.32 464.8,179.6 467.3,179.38 469.8,179.51 472.3,179.33 474.8,179.45 477.3,179.67 479.8,179.51 482.3,179.65 484.8,179.65 487.3,179.55 489.8,179.59 492.3,179.44 494.8,179.57 497.3,179.67 499.8,179.26 502.3,179.76 504.8,179.42 507.3,179.28 509.8,179.29 512.3,179.4 514.8,179.24 517.3,179.44 519.8,179.45 522.3,179.59 524.8,179.48 527.3,179.76 529.8,179.6 532.3,179.39 534.8,179.72 537.3,179.62 539.8,179.78 542.3,179.64 544.8,179.78 547.3,179.32 549.8,179.37 552.3,179.78 554.8,179.21 557.3,179.75 559.8,179.75 562.3,179.28 564.8,179.29 567.3,179.75 569.8,179.78 572.3,179.72 574.8,179.63 577.3,179.66 579.8,179.38 582.3,179.2 584.8,179.58 587.3,179.73 589.8,179.77 592.3,179.51 594.8,179.21 597.3,179.3 599.8,179.47 602.3,179.34 604.8,179.22 607.3,179.32 609.8,179.5 612.3,179.28 614.8,179.27 617.3,179.3 619.8,179.22 622.3,179.67 624.8,179.72 627.3,179.32 629.8,179.58 632.3,179.73 634.8,179.35 637.3,179.4 639.8,179.73 642.3,179.66 644.8,179.57 647.3,179.68 649.8,179.54 652.3,179.39 654.8,179.61 657.3,179.67 659.8,179.23 662.3,179.39 664.8,179.38 667.3,179.73 669.8,179.37 672.3,179.6 674.8,179.46 677.3,179.43 679.8,179.5 681.5,179.5" fill="none" stroke="#000000" stroke-width="3.7" stroke-linejoin="round" stroke-linecap="butt"/>
<polyline points="432.75,179.5 433.2,170 433.65,179.5" fill="none" stroke="#000000" stroke-width="2.2" stroke-linejoin="round" stroke-linecap="butt" stroke-linejoin="miter"/>
<polyline points="475.15,179.5 475.6,177 476.05,179.5" fill="none" stroke="#000000" stroke-width="2.2" stroke-linejoin="round" stroke-linecap="butt" stroke-linejoin="miter"/>
<polyline points="519.95,179.5 520.4,135 520.85,179.5" fill="none" stroke="#000000" stroke-width="2.2" stroke-linejoin="round" stroke-linecap="butt" stroke-linejoin="miter"/>
<polyline points="523.55,179.5 524,183 524.45,179.5" fill="none" stroke="#000000" stroke-width="2.2" stroke-linejoin="round" stroke-linecap="butt" stroke-linejoin="miter"/>
<polyline points="526.55,179.5 527,177 527.45,179.5" fill="none" stroke="#000000" stroke-width="2.2" stroke-linejoin="round" stroke-linecap="butt" stroke-linejoin="miter"/>
<polyline points="561.25,179.5 561.7,172 562.15,179.5" fill="none" stroke="#000000" stroke-width="2.2" stroke-linejoin="round" stroke-linecap="butt" stroke-linejoin="miter"/>
<polyline points="629.75,179.5 630.2,162.6 630.65,179.5" fill="none" stroke="#000000" stroke-width="2.2" stroke-linejoin="round" stroke-linecap="butt" stroke-linejoin="miter"/>
<polyline points="635.55,179.5 636,183 636.45,179.5" fill="none" stroke="#000000" stroke-width="2.2" stroke-linejoin="round" stroke-linecap="butt" stroke-linejoin="miter"/>
<polyline points="404.8,176.1 405,223.2 405.2,176.5 405.4,222 405.6,178 405.8,210 406,182 406.3,198 406.6,183 407.2,190 408,186.1 432.6,186.1 433.2,130 433.8,175 434.5,183 435.5,170 436.5,180 438,176 440,178 443,177 445,181 447,178 450,178 453,179 456,178 458.6,178.4 461.8,173 467.3,168.6 468.2,167.2 472.7,165.3 474,163.1 475.2,149.1 477.5,157.3 481,161.9 483.4,163.7 490.4,153.8 495.1,145.6 500.3,135.1 504.4,131 507.9,121.6 510.3,120.5 512.6,125.7 513.8,133.9 517.3,135.6 519.6,133.9 520.2,69 520.8,136 521.5,100 522.5,125 524.9,125.1 529,126.3 532.5,115.9 537.5,120 539.2,120.9 543.4,113.4 544.2,109.2 546.7,105.9 548.7,102.5 550.9,110.9 553.4,116.7 556.7,120.9 558.4,125.9 560,128.4 561.7,102.5 563.4,116.7 564.2,123.4 565.1,130.1 568.4,139.3 571.7,137.6 575.9,136.8 580.1,131.8 583.4,130.1 585.1,137.6 587.6,129.2 590.9,135.1 593.4,137.6 596.8,133.4 598.4,145.1 600.1,156.8 602.6,166 608.5,165.1 610,166.4 616.7,163.1 625,166 629.2,163.4 630.4,138.4 633.4,135.9 635.9,158.4 638.4,167.6 642.6,170.1 648.4,174.3 653.4,170.1 656.8,157.6 662.6,158.4 665.1,155.9 668.5,161.8 673.5,154.3 677.7,155.9 682,155" fill="none" stroke="#E3820E" stroke-width="2.2" stroke-linejoin="round" stroke-linecap="butt" stroke-dasharray="4.6,3"/>
<polyline points="405.2,176 405.2,223.2" fill="none" stroke="#E3820E" stroke-width="2.6" stroke-linejoin="round" stroke-linecap="butt"/></g>
<rect x="404.5" y="20.5" width="277" height="242" fill="none" stroke="#8a8a8a" stroke-width="1.0"/>
<path d="M404.5,262.5v-3.5M404.5,20.5v3.5M443.5,262.5v-3.5M443.5,20.5v3.5M481.5,262.5v-3.5M481.5,20.5v3.5M520.5,262.5v-3.5M520.5,20.5v3.5M558.5,262.5v-3.5M558.5,20.5v3.5M597.5,262.5v-3.5M597.5,20.5v3.5M635.5,262.5v-3.5M635.5,20.5v3.5M674.5,262.5v-3.5M674.5,20.5v3.5M404.5,23.5h3.5M681.5,23.5h-3.5M404.5,62.5h3.5M681.5,62.5h-3.5M404.5,101.5h3.5M681.5,101.5h-3.5M404.5,140.5h3.5M681.5,140.5h-3.5M404.5,179.5h3.5M681.5,179.5h-3.5M404.5,218.5h3.5M681.5,218.5h-3.5M404.5,257.5h3.5M681.5,257.5h-3.5" stroke="#4a4a4a" stroke-width="1.0" fill="none"/>
<text x="400.3" y="27.6" font-family='"Liberation Serif", serif' font-size="12.3" font-weight="bold" text-anchor="end" fill="#262626">0.02</text>
<text x="400.3" y="66.7" font-family='"Liberation Serif", serif' font-size="12.3" font-weight="bold" text-anchor="end" fill="#262626">0.015</text>
<text x="400.3" y="105.8" font-family='"Liberation Serif", serif' font-size="12.3" font-weight="bold" text-anchor="end" fill="#262626">0.01</text>
<text x="400.3" y="144.9" font-family='"Liberation Serif", serif' font-size="12.3" font-weight="bold" text-anchor="end" fill="#262626">0.005</text>
<text x="400.3" y="184" font-family='"Liberation Serif", serif' font-size="12.3" font-weight="bold" text-anchor="end" fill="#262626">0</text>
<text x="400.3" y="223.1" font-family='"Liberation Serif", serif' font-size="12.3" font-weight="bold" text-anchor="end" fill="#262626">-0.005</text>
<text x="400.3" y="262.2" font-family='"Liberation Serif", serif' font-size="12.3" font-weight="bold" text-anchor="end" fill="#262626">-0.01</text>
<text x="404.6" y="278.4" font-family='"Liberation Serif", serif' font-size="12.4" font-weight="bold" text-anchor="middle" fill="#262626" letter-spacing="0.1">0</text>
<text x="443.1" y="278.4" font-family='"Liberation Serif", serif' font-size="12.4" font-weight="bold" text-anchor="middle" fill="#262626" letter-spacing="0.1">200</text>
<text x="481.6" y="278.4" font-family='"Liberation Serif", serif' font-size="12.4" font-weight="bold" text-anchor="middle" fill="#262626" letter-spacing="0.1">400</text>
<text x="520.1" y="278.4" font-family='"Liberation Serif", serif' font-size="12.4" font-weight="bold" text-anchor="middle" fill="#262626" letter-spacing="0.1">600</text>
<text x="558.6" y="278.4" font-family='"Liberation Serif", serif' font-size="12.4" font-weight="bold" text-anchor="middle" fill="#262626" letter-spacing="0.1">800</text>
<text x="597.1" y="278.4" font-family='"Liberation Serif", serif' font-size="12.4" font-weight="bold" text-anchor="middle" fill="#262626" letter-spacing="0.1">1000</text>
<text x="635.6" y="278.4" font-family='"Liberation Serif", serif' font-size="12.4" font-weight="bold" text-anchor="middle" fill="#262626" letter-spacing="0.1">1200</text>
<text x="674.1" y="278.4" font-family='"Liberation Serif", serif' font-size="12.4" font-weight="bold" text-anchor="middle" fill="#262626" letter-spacing="0.1">1400</text>
<text x="543.4" y="294.4" font-family='"Liberation Serif", serif' font-size="12.8" font-weight="bold" text-anchor="middle" fill="#262626" letter-spacing="0.6">Time (min)</text>
<text transform="translate(359.4,141) scale(1.12,1) rotate(-90)" font-family='"Liberation Serif", serif' font-size="14.8" font-weight="bold" text-anchor="middle" fill="#262626" letter-spacing="0">&#916;F<tspan font-size="9.5" dy="4.4">2</tspan><tspan dy="-4.4"> (pu)</tspan></text>
<rect x="419.3" y="45.3" width="87.9" height="45.4" fill="#fff"/>
<line x1="433.5" y1="45.3" x2="433.5" y2="90.7" stroke="#dedede" stroke-width="1"/>
<line x1="481.5" y1="45.3" x2="481.5" y2="90.7" stroke="#dedede" stroke-width="1"/>
<line x1="419.3" y1="50.5" x2="507.2" y2="50.5" stroke="#dedede" stroke-width="1"/>
<line x1="419.3" y1="61.5" x2="507.2" y2="61.5" stroke="#dedede" stroke-width="1"/>
<line x1="419.3" y1="72.5" x2="507.2" y2="72.5" stroke="#dedede" stroke-width="1"/>
<line x1="419.3" y1="84.5" x2="507.2" y2="84.5" stroke="#dedede" stroke-width="1"/>
<g clip-path="url(#ci2)"><polyline points="424.09,62.91 425.53,64.02 426.96,72.9 428.4,83.56 429.36,75.12 430.32,65.13 431.75,61.8" fill="none" stroke="#A3390C" stroke-width="3.0" stroke-linejoin="round" stroke-linecap="butt"/>
<polyline points="419.3,64.02 421.69,62.91 425.53,64.02 426.96,70.68 428.4,77.34 429.36,72.9 430.32,65.13 431.75,60.69 433.67,61.13 438.46,61.8 448.04,62.47 461.45,61.8 464.33,60.69 465.76,50.7 466.72,59.58 467.68,66.24 468.64,65.13 470.55,61.8 474.38,62.91 481.57,61.8 481,62 484,63 486,68 487.5,76.8 488.5,70 490,62 491,57.9 492,62 500,62 503,55 504.9,49.2 506,52 507.5,54" fill="none" stroke="#FF0000" stroke-width="2.8" stroke-linejoin="round" stroke-linecap="butt"/>
<polyline points="419.3,64.02 421.69,61.8 425.53,64.02 426.96,70.68 428.4,78.45 429.36,75.12 430.32,65.13 431.75,60.69 433.67,61.13 438.46,61.8 460.01,61.8 463.37,60.69 465.28,62.91 468.16,61.8 481.57,61.8 481,62.3 482,55 483,62 484,66 485,60 486.3,65 487.5,74 489,79.5 490,72 491,62 492,66 493,60 495,62 500,62 502,62 503,58 504.9,50.1 506,52 507.5,55" fill="none" stroke="#008000" stroke-width="2.9" stroke-linejoin="round" stroke-linecap="butt"/>
<polyline points="419.3,68.46 420.74,65.13 422.17,62.91 424.09,62.47 425.53,64.02 426.49,70.68 427.44,74.01 428.88,75.12 429.84,72.9 430.8,65.13 431.75,61.13 433.67,60.02 436.06,60.69 438.46,61.8 448.04,62.24 460.01,61.8 462.41,61.36 465.28,61.8 471.99,62.47 480.13,62.47 481.57,61.8 481,62.3 481.6,45 482.6,45 483.6,63 484.4,66 485.4,58 486.1,45 487.2,45 487.9,75.8 488.8,70 489.6,60 490.4,72 491.2,62 492.2,50 493,60 493.5,75 494.4,55 495.2,62 496,58 497,64 498,61 499,63 500,72 501.3,92 503.2,92 504.5,80 505.3,62 506,58 507.5,57" fill="none" stroke="#0000FF" stroke-width="3.1" stroke-linejoin="round" stroke-linecap="butt"/>
<polyline points="419.3,62.91 421.69,61.8 424.09,62.47 428.88,62.91 433.67,61.36 448.04,62.47 463.85,61.8 465.28,57.36 466,52.92 466.72,60.69 467.68,62.91 470.55,61.8 479.18,62.91 483.97,62.47 491.15,61.36 495.94,61.13 500.73,61.13 507.44,60.69" fill="none" stroke="#000000" stroke-width="3.0" stroke-linejoin="round" stroke-linecap="butt"/></g>
<rect x="419.5" y="45.5" width="88" height="45" fill="none" stroke="#8a8a8a" stroke-width="1.0"/>
<path d="M433.5,90.5v-2M433.5,45.5v2M481.5,90.5v-2M481.5,45.5v2M419.5,50.5h2M507.5,50.5h-2M419.5,61.5h2M507.5,61.5h-2M419.5,72.5h2M507.5,72.5h-2M419.5,84.5h2M507.5,84.5h-2" stroke="#4a4a4a" stroke-width="1.0" fill="none"/>
<text x="416" y="54.6" font-family='"Liberation Serif", serif' font-size="11.5" font-weight="normal" text-anchor="end" fill="#262626">5</text>
<text x="416" y="65.7" font-family='"Liberation Serif", serif' font-size="11.5" font-weight="normal" text-anchor="end" fill="#262626">0</text>
<text x="416" y="76.8" font-family='"Liberation Serif", serif' font-size="11.5" font-weight="normal" text-anchor="end" fill="#262626">-5</text>
<text x="416" y="87.9" font-family='"Liberation Serif", serif' font-size="11.5" font-weight="normal" text-anchor="end" fill="#262626">-10</text>
<text x="433.67" y="106.4" font-family='"Liberation Serif", serif' font-size="11.5" font-weight="normal" text-anchor="middle" fill="#262626">300</text>
<text x="481.57" y="106.4" font-family='"Liberation Serif", serif' font-size="11.5" font-weight="normal" text-anchor="middle" fill="#262626">400</text>
<text x="420.3" y="44.1" font-family='"Liberation Serif", serif' font-size="13.6" fill="#262626">&#215;</text><text x="428.17" y="42.6" font-family='"Liberation Serif", serif' font-size="11" fill="#262626">10<tspan font-size="8.3" dy="-5.0">-4</tspan></text>
<rect x="202.3" y="328.3" width="321.1" height="238" fill="#fff"/>
<line x1="246.5" y1="328.3" x2="246.5" y2="566.3" stroke="#dedede" stroke-width="1"/>
<line x1="291.5" y1="328.3" x2="291.5" y2="566.3" stroke="#dedede" stroke-width="1"/>
<line x1="335.5" y1="328.3" x2="335.5" y2="566.3" stroke="#dedede" stroke-width="1"/>
<line x1="380.5" y1="328.3" x2="380.5" y2="566.3" stroke="#dedede" stroke-width="1"/>
<line x1="425.5" y1="328.3" x2="425.5" y2="566.3" stroke="#dedede" stroke-width="1"/>
<line x1="469.5" y1="328.3" x2="469.5" y2="566.3" stroke="#dedede" stroke-width="1"/>
<line x1="514.5" y1="328.3" x2="514.5" y2="566.3" stroke="#dedede" stroke-width="1"/>
<line x1="202.3" y1="358.5" x2="523.4" y2="358.5" stroke="#dedede" stroke-width="1"/>
<line x1="202.3" y1="387.5" x2="523.4" y2="387.5" stroke="#dedede" stroke-width="1"/>
<line x1="202.3" y1="417.5" x2="523.4" y2="417.5" stroke="#dedede" stroke-width="1"/>
<line x1="202.3" y1="447.5" x2="523.4" y2="447.5" stroke="#dedede" stroke-width="1"/>
<line x1="202.3" y1="477.5" x2="523.4" y2="477.5" stroke="#dedede" stroke-width="1"/>
<line x1="202.3" y1="506.5" x2="523.4" y2="506.5" stroke="#dedede" stroke-width="1"/>
<line x1="202.3" y1="536.5" x2="523.4" y2="536.5" stroke="#dedede" stroke-width="1"/>
<g clip-path="url(#c3)"><polyline points="202.4,447.3 202.8,441 203.3,482.8 203.8,447.3" fill="none" stroke="#008000" stroke-width="2.2" stroke-linejoin="round" stroke-linecap="butt"/>
<polyline points="202.4,447.3 202.8,443 203.3,470 203.8,447.3" fill="none" stroke="#0000FF" stroke-width="2.2" stroke-linejoin="round" stroke-linecap="butt"/>
<polyline points="235.2,447.3 235.8,369.14 236.4,469.35 237,378.72 237.7,478.35 238.5,422.21 239.2,416.42 240,478.35 240.8,436.71 241.5,487.35 242.2,407.71 243,481.35 243.8,436.71 244.6,463.35 245.2,400.46 246,458.85 246.7,433.81 247.4,466.35 248.2,443.96 249.2,433.81 250.2,458.85 251.2,466.35 252.2,436.71 253,451.35 253.9,412.06 254.7,458.85 255.5,443.96 256.2,490.35 257.2,451.35 258.2,466.35 259.2,429.46 259.9,419.31 260.7,451.35 261.5,436.71 262.2,454.35 263.2,443.96 264.2,451.35 265.2,439.62 266.2,466.35 267.2,446.87 268.2,451.35 269.2,441.06 270.2,447.3" fill="none" stroke="#A3390C" stroke-width="3.2" stroke-linejoin="round" stroke-linecap="butt"/>
<polyline points="335.5,447.3 336.2,424.76 336.6,527.41 337.2,438.9 338,465.88 339.3,420.85 340.2,470.5 341,444.65 342.2,417.06 343,471.13 344.1,489.51 344.9,489.51 345.8,438.9 346.5,455.38 347.6,435.45 348.6,462.74 349.6,436.61 350.6,458.54 351.7,474.92 352.8,448.04 353.6,460.63 354.6,476.38 355.6,438.9 356.9,418.2 357.8,455.38 358.5,462.74 359.3,447.3" fill="none" stroke="#A3390C" stroke-width="3.2" stroke-linejoin="round" stroke-linecap="butt"/>
<polyline points="235.1,447.3 235.7,386.93 236.3,464.94 236.9,394.32 237.6,472.14 238.4,427.92 239.1,423.44 239.9,472.14 240.7,439.12 241.4,479.34 242.1,416.72 242.9,474.54 243.7,439.12 244.5,460.14 245.1,411.12 245.9,456.54 246.6,436.88 247.3,462.54 248.1,444.72 249.1,436.88 250.1,456.54 251.1,462.54 252.1,439.12 252.9,450.54 253.8,420.08 254.6,456.54 255.4,444.72 256.1,481.74 257.1,450.54 258.1,462.54 259.1,433.52 259.8,425.68 260.6,450.54 261.4,439.12 262.1,452.94 263.1,444.72 264.1,450.54 265.1,441.36 266.1,462.54 267.1,446.96 268.1,450.54 269.1,442.48 270.1,447.3" fill="none" stroke="#008000" stroke-width="3.0" stroke-linejoin="round" stroke-linecap="butt"/>
<polyline points="335.6,447.3 336.3,416.92 336.7,526.5 337.3,435.99 338.1,467.12 339.4,411.65 340.3,472.05 341.1,443.74 342.3,406.53 343.1,472.72 344.2,492.32 345,492.32 345.9,435.99 346.6,455.92 347.7,431.33 348.7,463.76 349.7,432.88 350.7,459.28 351.8,476.76 352.9,448.08 353.7,461.52 354.7,478.32 355.7,435.99 357,408.08 357.9,455.92 358.6,463.76 359.4,447.3" fill="none" stroke="#008000" stroke-width="3.0" stroke-linejoin="round" stroke-linecap="butt"/>
<polyline points="235,447.3 235.6,393.4 236.2,462 236.8,400 237.5,468 238.3,430 239,426 239.8,468 240.6,440 241.3,474 242,420 242.8,470 243.6,440 244.4,458 245,415 245.8,455 246.5,438 247.2,460 248,445 249,438 250,455 251,460 252,440 252.8,450 253.7,423 254.5,455 255.3,445 256,476 257,450 258,460 259,435 259.7,428 260.5,450 261.3,440 262,452 263,445 264,450 265,442 266,460 267,447 268,450 269,443 270,447.3" fill="none" stroke="#0000FF" stroke-width="2.5" stroke-linejoin="round" stroke-linecap="butt"/>
<polyline points="335.5,447.3 336.2,427.7 336.6,523.6 337.2,440 338,465 339.3,424.3 340.2,469.4 341,445 342.2,421 343,470 344.1,487.5 344.9,487.5 345.8,440 346.5,455 347.6,437 348.6,462 349.6,438 350.6,458 351.7,473.6 352.8,448 353.6,460 354.6,475 355.6,440 356.9,422 357.8,455 358.5,462 359.3,447.3" fill="none" stroke="#0000FF" stroke-width="2.5" stroke-linejoin="round" stroke-linecap="butt"/>
<polyline points="290,447.3 291,449 293.3,465.6 294,452 294.8,440.8 296,447 298,446 300,427.3 301,440 302.3,453.6 303.5,447.3" fill="none" stroke="#008000" stroke-width="2.4" stroke-linejoin="round" stroke-linecap="butt"/>
<polyline points="290,447.3 291,449 293.3,465.6 294,452 294.8,444 296,447 298,446 300.5,431.8 301.3,440 302.3,453.6 303.5,447.3" fill="none" stroke="#0000FF" stroke-width="2.4" stroke-linejoin="round" stroke-linecap="butt"/>
<polyline points="234,447.54 236.2,447.75 238.4,448.38 240.6,446.54 242.8,447.82 245,448.63 247.2,448.69 249.4,446.23 251.6,447.82 253.8,447.7 256,447.31 258.2,448.89 260.4,447.4 262.6,447.11 264.8,448.81 267,447.76 269.2,446.62 271.4,446.65 273.6,447.29 275.8,445.78 278,447.67 280.2,448.1 282.4,447.05 284.6,448.48 286.8,448.76 289,447.49 291.2,447.92 293.4,446 295.6,445.79 297.8,448.93 300,446.57 302.2,446.33 304.4,448.65 306.6,448.15 308.8,446.02 311,446.69 313.2,446.43 315.4,446.53 317.6,445.62 319.8,447.38 322,446.63 324.2,446.94 326.4,446.23 328.6,445.97 330.8,445.71 333,448.57 335.2,448.14 337.4,447.5 339.6,446.02 341.8,446.11 344,446.01 346.2,446.68 348.4,445.8 350.6,446.54 352.8,446.29 355,446.26 357.2,447.82 359.4,447.16 361.6,447.21 363.8,446.82 366,447.43 368.2,448.27 370.4,446.65 372.6,445.84 374.8,447.24 377,446.89 379.2,448.25 381.4,445.98 383.6,448.57 385.8,445.65 388,447.44 390.2,447.11 392.4,446.67 394.6,448.62 396.8,447.99 399,446.15 401.2,447.28 403.4,447.68 405.6,445.71 407.8,445.9 410,447.65 412.2,448.08 414.4,447.17 416.6,447.04 418.8,447.32 421,446.49 423.2,448.58 425.4,448.87 427.6,447.24 429.8,445.67 432,446.95 434.2,448.33 436.4,446.7 438.6,445.96 440.8,446.23 443,448.02 445.2,447.71 447.4,446.57 449.6,447.72 451.8,448.19 454,448.88 456.2,448.43 458.4,447.08 460.6,448.35 462.8,448.75 465,448.55 467.2,448.15 469.4,447.59 471.6,447.34 473.8,448.49 476,447.73 478.2,448.05 480.4,446.37 482.6,445.91 484.8,446.52 487,447.58 489.2,447.55 491.4,446.28 493.6,446.24 495.8,448.83 498,445.84 500.2,448.75 502.4,448.22 504.6,447.55 506.8,448.98 509,447.91 511.2,445.62 513.4,448.79 515.6,447.01 517.8,448.72 520,448.37 522.2,446.07 523.4,447.3" fill="none" stroke="#FF0000" stroke-width="1.8" stroke-linejoin="round" stroke-linecap="butt"/>
<polyline points="202.35,447.3 202.8,443 203.25,447.3" fill="none" stroke="#FF0000" stroke-width="2.2" stroke-linejoin="round" stroke-linecap="butt" stroke-linejoin="miter"/>
<polyline points="202.85,447.3 203.3,470 203.75,447.3" fill="none" stroke="#FF0000" stroke-width="2.2" stroke-linejoin="round" stroke-linecap="butt" stroke-linejoin="miter"/>
<polyline points="235.15,447.3 235.6,420 236.05,447.3" fill="none" stroke="#FF0000" stroke-width="2.2" stroke-linejoin="round" stroke-linecap="butt" stroke-linejoin="miter"/>
<polyline points="283.85,447.3 284.3,436.3 284.75,447.3" fill="none" stroke="#FF0000" stroke-width="2.2" stroke-linejoin="round" stroke-linecap="butt" stroke-linejoin="miter"/>
<polyline points="313.05,447.3 313.5,443.8 313.95,447.3" fill="none" stroke="#FF0000" stroke-width="2.2" stroke-linejoin="round" stroke-linecap="butt" stroke-linejoin="miter"/>
<polyline points="327.35,447.3 327.8,454.3 328.25,447.3" fill="none" stroke="#FF0000" stroke-width="2.2" stroke-linejoin="round" stroke-linecap="butt" stroke-linejoin="miter"/>
<polyline points="336.15,447.3 336.6,490 337.05,447.3" fill="none" stroke="#FF0000" stroke-width="2.2" stroke-linejoin="round" stroke-linecap="butt" stroke-linejoin="miter"/>
<polyline points="362.55,447.3 363,435.6 363.45,447.3" fill="none" stroke="#FF0000" stroke-width="2.2" stroke-linejoin="round" stroke-linecap="butt" stroke-linejoin="miter"/>
<polyline points="384.25,447.3 384.7,459.5 385.15,447.3" fill="none" stroke="#FF0000" stroke-width="2.2" stroke-linejoin="round" stroke-linecap="butt" stroke-linejoin="miter"/>
<polyline points="385.55,447.3 386,441.5 386.45,447.3" fill="none" stroke="#FF0000" stroke-width="2.2" stroke-linejoin="round" stroke-linecap="butt" stroke-linejoin="miter"/>
<polyline points="427.95,447.3 428.4,438 428.85,447.3" fill="none" stroke="#FF0000" stroke-width="2.2" stroke-linejoin="round" stroke-linecap="butt" stroke-linejoin="miter"/>
<polyline points="462.75,447.3 463.2,458.5 463.65,447.3" fill="none" stroke="#FF0000" stroke-width="2.2" stroke-linejoin="round" stroke-linecap="butt" stroke-linejoin="miter"/>
<polyline points="472.45,447.3 472.9,441.3 473.35,447.3" fill="none" stroke="#FF0000" stroke-width="2.2" stroke-linejoin="round" stroke-linecap="butt" stroke-linejoin="miter"/>
<polyline points="202.4,447.28 204.9,447.53 207.4,447.02 209.9,447.17 212.4,447.58 214.9,447.4 217.4,447.08 219.9,447.21 222.4,447.53 224.9,447.26 227.4,447.02 229.9,447.54 232.4,447.08 234.9,447.38 237.4,447.37 239.9,447.28 242.4,447.58 244.9,447.11 247.4,447.36 249.9,447.07 252.4,447.58 254.9,447.09 257.4,447.31 259.9,447.5 262.4,447.53 264.9,447.06 267.4,447.53 269.9,447.51 272.4,447.19 274.9,447.45 277.4,447.14 279.9,447.09 282.4,447.1 284.9,447.19 287.4,447.5 289.9,447.28 292.4,447.59 294.9,447.54 297.4,447.13 299.9,447.26 302.4,447.04 304.9,447.35 307.4,447.37 309.9,447.35 312.4,447.05 314.9,447.37 317.4,447.07 319.9,447.5 322.4,447.28 324.9,447.06 327.4,447.59 329.9,447.57 332.4,447.2 334.9,447.56 337.4,447.17 339.9,447.32 342.4,447.34 344.9,447.47 347.4,447.04 349.9,447.02 352.4,447.09 354.9,447.23 357.4,447.48 359.9,447.43 362.4,447.06 364.9,447.44 367.4,447.11 369.9,447.01 372.4,447.29 374.9,447.55 377.4,447.54 379.9,447.26 382.4,447.48 384.9,447.12 387.4,447.1 389.9,447.58 392.4,447.4 394.9,447.1 397.4,447.2 399.9,447.46 402.4,447.03 404.9,447.11 407.4,447.48 409.9,447.14 412.4,447.25 414.9,447.26 417.4,447.29 419.9,447.19 422.4,447.15 424.9,447.48 427.4,447.46 429.9,447.57 432.4,447.03 434.9,447.09 437.4,447.51 439.9,447.19 442.4,447.48 444.9,447.18 447.4,447.24 449.9,447.4 452.4,447.26 454.9,447.32 457.4,447.02 459.9,447.51 462.4,447.37 464.9,447.15 467.4,447.28 469.9,447.38 472.4,447.56 474.9,447.01 477.4,447.56 479.9,447.35 482.4,447.02 484.9,447.22 487.4,447.43 489.9,447.07 492.4,447.35 494.9,447.34 497.4,447.34 499.9,447.02 502.4,447.01 504.9,447.58 507.4,447.1 509.9,447.11 512.4,447.34 514.9,447.01 517.4,447.44 519.9,447.46 522.4,447.2 523.4,447.3" fill="none" stroke="#000000" stroke-width="3.8" stroke-linejoin="round" stroke-linecap="butt"/>
<polyline points="202.75,447.3 203.2,478 203.65,447.3" fill="none" stroke="#000000" stroke-width="2.2" stroke-linejoin="round" stroke-linecap="butt" stroke-linejoin="miter"/>
<polyline points="283.85,447.3 284.3,437.1 284.75,447.3" fill="none" stroke="#000000" stroke-width="2.2" stroke-linejoin="round" stroke-linecap="butt" stroke-linejoin="miter"/>
<polyline points="284.85,447.3 285.3,450.6 285.75,447.3" fill="none" stroke="#000000" stroke-width="2.2" stroke-linejoin="round" stroke-linecap="butt" stroke-linejoin="miter"/>
<polyline points="327.35,447.3 327.8,452 328.25,447.3" fill="none" stroke="#000000" stroke-width="2.2" stroke-linejoin="round" stroke-linecap="butt" stroke-linejoin="miter"/>
<polyline points="336.15,447.3 336.6,483 337.05,447.3" fill="none" stroke="#000000" stroke-width="2.2" stroke-linejoin="round" stroke-linecap="butt" stroke-linejoin="miter"/>
<polyline points="362.55,447.3 363,436.7 363.45,447.3" fill="none" stroke="#000000" stroke-width="2.2" stroke-linejoin="round" stroke-linecap="butt" stroke-linejoin="miter"/>
<polyline points="368.15,447.3 368.6,453.6 369.05,447.3" fill="none" stroke="#000000" stroke-width="2.2" stroke-linejoin="round" stroke-linecap="butt" stroke-linejoin="miter"/>
<polyline points="384.25,447.3 384.7,458 385.15,447.3" fill="none" stroke="#000000" stroke-width="2.2" stroke-linejoin="round" stroke-linecap="butt" stroke-linejoin="miter"/>
<polyline points="385.55,447.3 386,442.7 386.45,447.3" fill="none" stroke="#000000" stroke-width="2.2" stroke-linejoin="round" stroke-linecap="butt" stroke-linejoin="miter"/>
<polyline points="413.65,447.3 414.1,451.4 414.55,447.3" fill="none" stroke="#000000" stroke-width="2.2" stroke-linejoin="round" stroke-linecap="butt" stroke-linejoin="miter"/>
<polyline points="427.95,447.3 428.4,440.1 428.85,447.3" fill="none" stroke="#000000" stroke-width="2.2" stroke-linejoin="round" stroke-linecap="butt" stroke-linejoin="miter"/>
<polyline points="448.55,447.3 449,451 449.45,447.3" fill="none" stroke="#000000" stroke-width="2.2" stroke-linejoin="round" stroke-linecap="butt" stroke-linejoin="miter"/>
<polyline points="462.75,447.3 463.2,457.5 463.65,447.3" fill="none" stroke="#000000" stroke-width="2.2" stroke-linejoin="round" stroke-linecap="butt" stroke-linejoin="miter"/>
<polyline points="468.15,447.3 468.6,443 469.05,447.3" fill="none" stroke="#000000" stroke-width="2.2" stroke-linejoin="round" stroke-linecap="butt" stroke-linejoin="miter"/>
<polyline points="472.45,447.3 472.9,443 473.35,447.3" fill="none" stroke="#000000" stroke-width="2.2" stroke-linejoin="round" stroke-linecap="butt" stroke-linejoin="miter"/>
<polyline points="481.15,447.3 481.6,449 482.05,447.3" fill="none" stroke="#000000" stroke-width="2.2" stroke-linejoin="round" stroke-linecap="butt" stroke-linejoin="miter"/>
<polyline points="202.5,447 202.7,441.5 202.9,544 203.1,442 203.3,542 203.5,446 203.7,520 203.9,450 204.2,490 204.5,460 205,478 205.5,465 206,472 207.3,469 208,471 235,470.9 235.6,332.8 236.2,450 236.8,414 238,440 240,450 243,453 246,436 248,440 250,438 254,444 258,446 262,445 264,440 266.8,426 268,418 272.1,405.5 281.5,405.5 284.1,353.4 285.5,365.4 288.1,384.1 292.1,400.1 296.2,394.8 302.8,390.8 306.8,394.8 310.8,402.8 313.3,381.7 318.3,398.4 323.4,386.7 326.7,406.8 329.1,408.5 331.4,430 334.8,425.5 336.2,430 336.6,480 337.2,440 340.4,434.5 346,434.5 352.8,435.6 360.7,431 363,401.8 365,386 367.5,399.5 368.6,424.3 370.9,437.9 372,440 376,457.4 382,463.4 383.4,475.4 384,484 384,496 384.7,503.5 386.7,490.8 388.7,484.1 391.4,485.5 393.4,476.1 394.7,480.1 397.4,484.8 398.7,487.5 401.4,497.5 404.1,506.8 406.1,512.9 408.8,508.2 412.8,498.2 416.1,502.8 419.5,494.1 420.8,495.5 426.3,491.1 428.4,471.6 431.7,454.2 436,459.7 442.5,468.3 448,471.6 450.1,481.4 455.6,482 462.1,478.1 464.2,493.3 467.5,506.3 470.8,480.3 474,465.1 479.4,462.9 482.7,475.9 485.9,474.9 490.3,456.4 493.5,443.4 495.7,438 499,440.1 503.3,431.5 506.5,433.6 510.9,428.2 516.3,432.5 521.7,439 524,437" fill="none" stroke="#E3820E" stroke-width="2.2" stroke-linejoin="round" stroke-linecap="butt" stroke-dasharray="4.6,3"/>
<polyline points="203.1,441.5 203.1,544" fill="none" stroke="#E3820E" stroke-width="2.5" stroke-linejoin="round" stroke-linecap="butt"/>
<polyline points="204,445 204,478" fill="none" stroke="#000000" stroke-width="1.8" stroke-linejoin="round" stroke-linecap="butt"/></g>
<rect x="202.5" y="328.5" width="321" height="238" fill="none" stroke="#8a8a8a" stroke-width="1.0"/>
<path d="M202.5,566.5v-3.5M202.5,328.5v3.5M246.5,566.5v-3.5M246.5,328.5v3.5M291.5,566.5v-3.5M291.5,328.5v3.5M335.5,566.5v-3.5M335.5,328.5v3.5M380.5,566.5v-3.5M380.5,328.5v3.5M425.5,566.5v-3.5M425.5,328.5v3.5M469.5,566.5v-3.5M469.5,328.5v3.5M514.5,566.5v-3.5M514.5,328.5v3.5M202.5,328.5h3.5M523.5,328.5h-3.5M202.5,358.5h3.5M523.5,358.5h-3.5M202.5,387.5h3.5M523.5,387.5h-3.5M202.5,417.5h3.5M523.5,417.5h-3.5M202.5,447.5h3.5M523.5,447.5h-3.5M202.5,477.5h3.5M523.5,477.5h-3.5M202.5,506.5h3.5M523.5,506.5h-3.5M202.5,536.5h3.5M523.5,536.5h-3.5M202.5,566.5h3.5M523.5,566.5h-3.5" stroke="#4a4a4a" stroke-width="1.0" fill="none"/>
<text x="196.8" y="333.4" font-family='"Liberation Serif", serif' font-size="13.2" font-weight="bold" text-anchor="end" fill="#262626" letter-spacing="0.2">2</text>
<text x="196.8" y="363.15" font-family='"Liberation Serif", serif' font-size="13.2" font-weight="bold" text-anchor="end" fill="#262626" letter-spacing="0.2">1.5</text>
<text x="196.8" y="392.9" font-family='"Liberation Serif", serif' font-size="13.2" font-weight="bold" text-anchor="end" fill="#262626" letter-spacing="0.2">1</text>
<text x="196.8" y="422.65" font-family='"Liberation Serif", serif' font-size="13.2" font-weight="bold" text-anchor="end" fill="#262626" letter-spacing="0.2">0.5</text>
<text x="196.8" y="452.4" font-family='"Liberation Serif", serif' font-size="13.2" font-weight="bold" text-anchor="end" fill="#262626" letter-spacing="0.2">0</text>
<text x="196.8" y="482.15" font-family='"Liberation Serif", serif' font-size="13.2" font-weight="bold" text-anchor="end" fill="#262626" letter-spacing="0.2">-0.5</text>
<text x="196.8" y="511.9" font-family='"Liberation Serif", serif' font-size="13.2" font-weight="bold" text-anchor="end" fill="#262626" letter-spacing="0.2">-1</text>
<text x="196.8" y="541.65" font-family='"Liberation Serif", serif' font-size="13.2" font-weight="bold" text-anchor="end" fill="#262626" letter-spacing="0.2">-1.5</text>
<text x="196.8" y="571.4" font-family='"Liberation Serif", serif' font-size="13.2" font-weight="bold" text-anchor="end" fill="#262626" letter-spacing="0.2">-2</text>
<text x="202.3" y="581.9" font-family='"Liberation Serif", serif' font-size="13.2" font-weight="bold" text-anchor="middle" fill="#262626" letter-spacing="0.6">0</text>
<text x="246.86" y="581.9" font-family='"Liberation Serif", serif' font-size="13.2" font-weight="bold" text-anchor="middle" fill="#262626" letter-spacing="0.6">200</text>
<text x="291.42" y="581.9" font-family='"Liberation Serif", serif' font-size="13.2" font-weight="bold" text-anchor="middle" fill="#262626" letter-spacing="0.6">400</text>
<text x="335.98" y="581.9" font-family='"Liberation Serif", serif' font-size="13.2" font-weight="bold" text-anchor="middle" fill="#262626" letter-spacing="0.6">600</text>
<text x="380.54" y="581.9" font-family='"Liberation Serif", serif' font-size="13.2" font-weight="bold" text-anchor="middle" fill="#262626" letter-spacing="0.6">800</text>
<text x="425.1" y="581.9" font-family='"Liberation Serif", serif' font-size="13.2" font-weight="bold" text-anchor="middle" fill="#262626" letter-spacing="0.6">1000</text>
<text x="469.66" y="581.9" font-family='"Liberation Serif", serif' font-size="13.2" font-weight="bold" text-anchor="middle" fill="#262626" letter-spacing="0.6">1200</text>
<text x="514.22" y="581.9" font-family='"Liberation Serif", serif' font-size="13.2" font-weight="bold" text-anchor="middle" fill="#262626" letter-spacing="0.6">1400</text>
<text x="362.9" y="596.4" font-family='"Liberation Serif", serif' font-size="13.2" font-weight="bold" text-anchor="middle" fill="#262626" letter-spacing="0.4">Time (min)</text>
<text transform="translate(162.8,447.6) scale(1.15,1) rotate(-90)" font-family='"Liberation Serif", serif' font-size="13.2" font-weight="bold" text-anchor="middle" fill="#262626" letter-spacing="-0.15">&#916;Pt<tspan font-size="9.8" dy="5.2">12</tspan><tspan dy="-5.2"> (pu)</tspan></text>
<text x="203.4" y="328.6" font-family='"Liberation Serif", serif' font-size="16.5" fill="#262626">&#215;</text><text x="213.71" y="326.2" font-family='"Liberation Serif", serif' font-size="12.2" fill="#262626">10<tspan font-size="9.5" dy="-5.6">-3</tspan></text>
<rect x="365.5" y="344.6" width="140.1" height="41" fill="#fff"/>
<line x1="403.5" y1="344.6" x2="403.5" y2="385.6" stroke="#dedede" stroke-width="1"/>
<line x1="444.5" y1="344.6" x2="444.5" y2="385.6" stroke="#dedede" stroke-width="1"/>
<line x1="485.5" y1="344.6" x2="485.5" y2="385.6" stroke="#dedede" stroke-width="1"/>
<line x1="365.5" y1="358.5" x2="505.6" y2="358.5" stroke="#dedede" stroke-width="1"/>
<line x1="365.5" y1="371.5" x2="505.6" y2="371.5" stroke="#dedede" stroke-width="1"/>
<g clip-path="url(#ci3)"><polyline points="364.5,358.1 366.54,369 370.64,398.99 378.83,405.81 382.72,385.36 384.97,364.92 387.02,351.29 389.27,345.02 395.21,345.29 401.56,345.7 405.04,349.92 409.95,351.29 415.07,353.33 419.98,355.24 425.92,357.01 430.02,356.74 433.5,350.6 435.75,339.02 452.54,339.02 454.38,344.47 456.63,354.01 459.71,363.55 463.8,369.55 467.9,368.05 473.83,363.82 483.87,360.55 493.9,358.78 505.77,358.1" fill="none" stroke="#A3390C" stroke-width="3.0" stroke-linejoin="round" stroke-linecap="butt"/>
<polyline points="364.5,358.1 366.54,369 370.64,398.99 378.83,405.81 382.72,385.36 384.97,364.92 387.02,351.29 389.27,344.74 395.21,345.02 401.56,345.42 405.04,349.65 409.95,351.01 415.07,353.06 419.98,354.97 425.92,356.74 430.02,356.46 433.5,349.92 435.75,339.02 452.54,339.02 454.38,344.47 456.63,354.01 459.71,362.87 462.98,367.91 466.87,366.96 473.83,363.01 483.87,360.01 493.9,358.51 505.77,358.1" fill="none" stroke="#008000" stroke-width="3.0" stroke-linejoin="round" stroke-linecap="butt"/>
<polyline points="364.5,358.1 367.57,370.37 371.66,385.36 373.71,398.99 380.88,398.99 383.54,385.36 384.97,374.46 387.02,366.96 390.09,360.01 393.16,354.97 396.23,351.97 398.08,351.29 403.4,352.24 409.54,353.47 415.69,354.69 421.83,355.78 425.92,356.74 430.02,357.42 434.11,356.46 436.57,349.92 438.21,339.02 456.63,339.02 457.45,344.47 459.71,354.01 462.78,358.78 466.87,359.87 475.06,360.01 485.3,359.46 495.54,358.78 505.77,358.37" fill="none" stroke="#0000FF" stroke-width="3.2" stroke-linejoin="round" stroke-linecap="butt"/>
<polyline points="397.26,353.74 397.97,349.46 398.69,353.9 399.41,349.62 400.12,354.06 400.84,349.77 401.56,354.22 402.27,349.93 402.99,354.37 403.71,350.12 404.42,354.62 405.14,350.41 405.86,354.91 406.57,350.69 407.29,355.2 408.01,350.98 408.72,355.48 409.44,351.26 410.16,355.77 410.87,351.55 411.59,356.06 412.31,351.84 413.02,356.34 413.74,352.12 414.46,356.63 415.17,352.41 415.89,356.91 416.61,352.68 417.32,357.16 418.04,352.93 418.76,357.42 419.47,353.18 420.19,357.67 420.91,353.44 421.62,357.93 422.34,353.72 423.06,358.25 423.77,354.06 424.49,358.58 425.21,354.39 425.92,358.92 426.64,354.68 427.36,359.16 428.07,354.91 428.79,359.39 429.51,355.15" fill="none" stroke="#0000FF" stroke-width="1.6" stroke-linejoin="round" stroke-linecap="butt"/>
<polyline points="364.5,358.1 370.64,358.78 379.85,358.1 382.92,354.69 386,352.92 393.16,353.6 398.28,356.06 402.38,359.19 406.06,361.23 410.57,359.74 415.69,357.83 444.35,357.28 464.82,357.69 485.3,357.96 505.77,358.1" fill="none" stroke="#FF0000" stroke-width="2.4" stroke-linejoin="round" stroke-linecap="butt"/>
<polyline points="364.5,358.1 370.64,358.51 379.85,358.1 382.92,355.37 386,354.01 395.21,354.56 398.28,356.06 402.38,358.51 406.06,359.87 410.57,359.19 415.69,357.83 444.35,357.42 505.77,357.69" fill="none" stroke="#000000" stroke-width="3.1" stroke-linejoin="round" stroke-linecap="butt"/></g>
<rect x="365.5" y="344.5" width="140" height="41" fill="none" stroke="#8a8a8a" stroke-width="1.0"/>
<path d="M403.5,385.5v-2M403.5,344.5v2M444.5,385.5v-2M444.5,344.5v2M485.5,385.5v-2M485.5,344.5v2M365.5,358.5h2M505.5,358.5h-2M365.5,371.5h2M505.5,371.5h-2M365.5,385.5h2M505.5,385.5h-2" stroke="#4a4a4a" stroke-width="1.0" fill="none"/>
<text x="361.6" y="361.6" font-family='"Liberation Serif", serif' font-size="10.2" font-weight="bold" text-anchor="end" fill="#262626">0</text>
<text x="361.6" y="375.23" font-family='"Liberation Serif", serif' font-size="10.2" font-weight="bold" text-anchor="end" fill="#262626">-10</text>
<text x="361.6" y="388.86" font-family='"Liberation Serif", serif' font-size="10.2" font-weight="bold" text-anchor="end" fill="#262626">-20</text>
<text x="403.4" y="398.8" font-family='"Liberation Serif", serif' font-size="10.2" font-weight="bold" text-anchor="middle" fill="#262626">420</text>
<text x="444.35" y="398.8" font-family='"Liberation Serif", serif' font-size="10.2" font-weight="bold" text-anchor="middle" fill="#262626">440</text>
<text x="485.3" y="398.8" font-family='"Liberation Serif", serif' font-size="10.2" font-weight="bold" text-anchor="middle" fill="#262626">460</text>
<text x="365.8" y="343.7" font-family='"Liberation Serif", serif' font-size="14" fill="#262626">&#215;</text><text x="374" y="342.1" font-family='"Liberation Serif", serif' font-size="11.3" fill="#262626">10<tspan font-size="8.5" dy="-4.8">-5</tspan></text>
<ellipse cx="139.2" cy="157.1" rx="12.7" ry="9.9" fill="none" stroke="#111" stroke-width="1.25" stroke-dasharray="4.5,2,1.2,2"/>
<ellipse cx="472.7" cy="181.2" rx="14.6" ry="10.8" fill="none" stroke="#111" stroke-width="1.25" stroke-dasharray="4.5,2,1.2,2"/>
<ellipse cx="292.2" cy="445" rx="16.5" ry="14.7" fill="none" stroke="#111" stroke-width="1.25" stroke-dasharray="4.5,2,1.2,2"/>
<line x1="189.3" y1="81.8" x2="142.61" y2="137.12" stroke="#000" stroke-width="1.7"/><polygon points="136.8,144 139.89,133.52 146.61,139.2" fill="#000"/>
<line x1="456.5" y1="90.7" x2="464.14" y2="161.85" stroke="#000" stroke-width="1.7"/><polygon points="465.1,170.8 459.66,161.33 468.41,160.39" fill="#000"/>
<line x1="405" y1="400.4" x2="293.78" y2="425.7" stroke="#000" stroke-width="1.7"/><polygon points="285,427.7 293.77,421.19 295.73,429.77" fill="#000"/>
</svg>
</body></html>
